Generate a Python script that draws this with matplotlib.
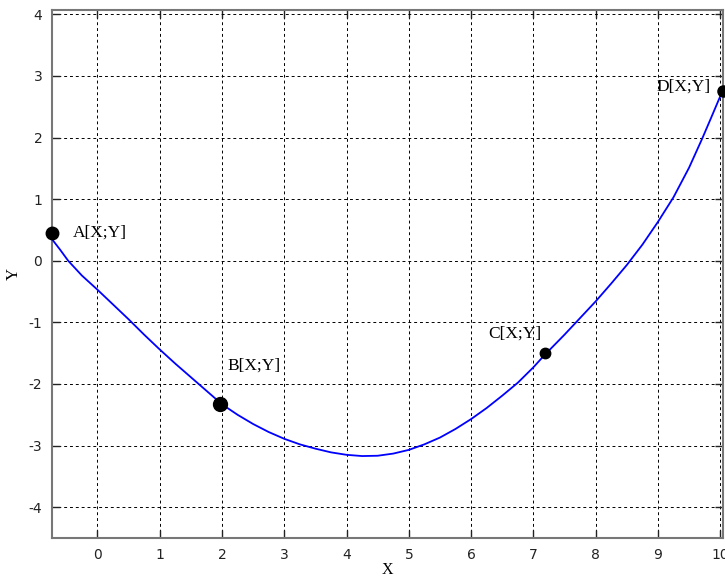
import matplotlib
matplotlib.use('Agg')
import matplotlib.pyplot as plt

plt.rcParams['axes.unicode_minus'] = False

# curve
CURVE_X = [-0.73, -0.6, -0.47, -0.25, 0.0, 0.25, 0.5, 0.75, 1.0, 1.25, 1.5, 1.75,
           2.0, 2.25, 2.5, 2.75, 3.0, 3.25, 3.5, 3.75, 4.0, 4.25, 4.5, 4.75, 5.0,
           5.25, 5.5, 5.75, 6.0, 6.25, 6.5, 6.75, 7.0, 7.18, 7.5, 7.75, 8.0, 8.25,
           8.5, 8.75, 9.0, 9.25, 9.5, 9.71, 9.85, 9.98, 10.04]
CURVE_Y = [0.35, 0.18, 0.0, -0.24, -0.47, -0.71, -0.95, -1.20, -1.44, -1.67, -1.89,
           -2.11, -2.33, -2.50, -2.65, -2.78, -2.89, -2.98, -3.05, -3.11, -3.15,
           -3.17, -3.165, -3.13, -3.07, -2.98, -2.87, -2.73, -2.57, -2.39, -2.19,
           -1.98, -1.73, -1.53, -1.20, -0.93, -0.66, -0.37, -0.07, 0.26, 0.63,
           1.03, 1.51, 1.98, 2.31, 2.62, 2.76]

# control points
PT_NAMES = ['A[X;Y]', 'B[X;Y]', 'C[X;Y]', 'D[X;Y]']
PT_X = [-0.73, 1.96, 7.18, 10.04]
PT_Y = [0.45, -2.33, -1.50, 2.76]
PT_SIZE = [9, 10, 7.5, 8]
LABEL_X = [-0.39, 2.08, 6.27, 8.97]
LABEL_Y = [0.46, -1.71, -1.18, 2.82]

X_TICKS = list(range(0, 11))
Y_TICKS = list(range(-4, 5))

fig = plt.figure(figsize=(7.25, 5.77), dpi=100)
ax = fig.add_axes([0.0717, 0.0676, 0.9251, 0.9151])

ax.plot(CURVE_X, CURVE_Y, color='#0000FF', lw=1.3, zorder=3,
        solid_joinstyle='round')
for name, x, y, s, lx, ly in zip(PT_NAMES, PT_X, PT_Y, PT_SIZE, LABEL_X, LABEL_Y):
    ax.plot(x, y, 'o', color='black', ms=s, zorder=4, clip_on=False)
    ax.text(lx, ly, name, family='Liberation Serif', fontsize=12.5,
            ha='left', va='center')

ax.set_xlim(-0.73, 10.04)
ax.set_ylim(-4.5, 4.07)
ax.set_xticks(X_TICKS)
ax.set_yticks(Y_TICKS)
ax.grid(True, color='black', linestyle=(0, (3, 3)), linewidth=0.7)
ax.tick_params(direction='in', length=6, width=1, top=True, right=True,
               labelsize=10, colors='#222222', pad=7)
for sp in ax.spines.values():
    sp.set_color('#777777')
    sp.set_linewidth(1.5)

ax.set_xlabel('X', family='Liberation Serif', fontsize=11.5, labelpad=0)
ax.set_ylabel('Y', family='Liberation Serif', fontsize=12, labelpad=5)

fig.savefig('out.png', dpi=100)
